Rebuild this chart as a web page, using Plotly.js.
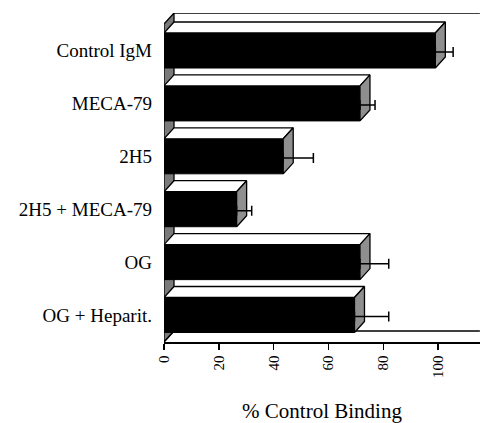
<!DOCTYPE html>
<html>
<head>
<meta charset="utf-8">
<script src="https://cdn.plot.ly/plotly-3.0.1.min.js"></script>
<style>html,body{margin:0;padding:0;background:#fff;overflow:hidden;}#chart{width:480px;height:423px;}</style>
</head>
<body>
<div id="chart"></div>
<script>
// Data
const categories = ["Control IgM", "MECA-79", "2H5", "2H5 + MECA-79", "OG", "OG + Heparit."];
const values = [99, 71.5, 43.5, 26.5, 71.5, 69.5];
const errors = [6.5, 5.5, 11, 5.5, 10.5, 12.5];
const xTicks = [0, 20, 40, 60, 80, 100];

// 3D look parameters (in axis units)
const XMAX = 115.3;
const YTOP = -0.709, YBOT = 5.51;
const DX = 3.65;      // depth offset along x
const DY = 0.208;     // depth offset along y (upwards)
const HALF = 0.331;   // half bar thickness

const idx = categories.map((_, i) => i);

// top faces and side faces as filled polygons derived from data
const topX = [], topY = [], sideX = [], sideY = [];
values.forEach((v, i) => {
  const yf = i - HALF, yb = yf - DY;
  topX.push(0, v, v + DX, DX, 0, null);
  topY.push(yf, yf, yb, yb, yf, null);
  sideX.push(v, v + DX, v + DX, v, v, null);
  sideY.push(yf, yb, yb + 2 * HALF, yf + 2 * HALF, yf, null);
});

const traces = [
  {
    type: 'bar', orientation: 'h', x: values, y: idx, width: 2 * HALF,
    marker: {color: '#000', line: {color: '#000', width: 1}},
    hoverinfo: 'skip', showlegend: false
  },
  {
    type: 'scatter', mode: 'lines', x: topX, y: topY, fill: 'toself',
    fillcolor: '#ffffff', line: {color: '#000', width: 1.3},
    hoverinfo: 'skip', showlegend: false
  },
  {
    type: 'scatter', mode: 'lines', x: sideX, y: sideY, fill: 'toself',
    fillcolor: '#8f8f8f', line: {color: '#000', width: 1.3},
    hoverinfo: 'skip', showlegend: false
  },
  {
    type: 'scatter', mode: 'markers', x: values, y: idx.map(i => i + 0.03),
    marker: {size: 1, color: 'rgba(0,0,0,0)'},
    error_x: {type: 'data', symmetric: false, array: errors, arrayminus: errors.map(() => 0),
              color: '#000', thickness: 1.5, width: 5},
    hoverinfo: 'skip', showlegend: false
  }
];

const XEND = XMAX * 0.9995;
const shapes = [
  // left wall
  {type: 'path', layer: 'below', xref: 'x', yref: 'y',
   path: `M 0 ${YBOT} L 0 ${YTOP + DY} L ${DX} ${YTOP} L ${DX} ${YBOT - DY} Z`,
   fillcolor: '#7a7a7a', line: {color: '#000', width: 1.3}},
  // back wall top edge
  {type: 'line', layer: 'below', xref: 'x', yref: 'y',
   x0: DX, x1: XEND, y0: YTOP, y1: YTOP, line: {color: '#000', width: 1.3}},
  // floor back edge
  {type: 'line', layer: 'below', xref: 'x', yref: 'y',
   x0: DX, x1: XEND, y0: YBOT - DY, y1: YBOT - DY, line: {color: '#000', width: 1.3}},
  // floor diagonal
  {type: 'line', layer: 'below', xref: 'x', yref: 'y',
   x0: 0, x1: DX, y0: YBOT, y1: YBOT - DY, line: {color: '#000', width: 1.3}}
];

const layout = {
  width: 480, height: 423,
  margin: {l: 164, r: 0, t: 13, b: 81},
  paper_bgcolor: '#fff', plot_bgcolor: '#fff',
  showlegend: false,
  bargap: 0,
  font: {family: 'Liberation Serif, Times New Roman, serif', color: '#000'},
  xaxis: {
    range: [0, XMAX], showgrid: false, zeroline: false,
    showline: true, linecolor: '#000', linewidth: 1.5,
    tickmode: 'array', tickvals: xTicks, ticktext: xTicks.map(String),
    ticks: 'outside', ticklen: 6, tickwidth: 1.5, tickcolor: '#000',
    tickangle: -90, tickfont: {family: 'Liberation Serif, serif', size: 15, color: '#000'},
    title: {text: '% Control Binding', font: {family: 'Liberation Serif, serif', size: 21, color: '#000'}, standoff: 26},
    fixedrange: true
  },
  yaxis: {
    range: [YBOT, YTOP], showgrid: false, zeroline: false, showline: false,
    tickmode: 'array', tickvals: idx, ticktext: categories,
    ticks: '', ticklabelstandoff: 11,
    tickfont: {family: 'Liberation Serif, serif', size: 19, color: '#000'},
    fixedrange: true
  },
  shapes: shapes
};

Plotly.newPlot('chart', traces, layout, {displayModeBar: false, staticPlot: true});
</script>
</body>
</html>
